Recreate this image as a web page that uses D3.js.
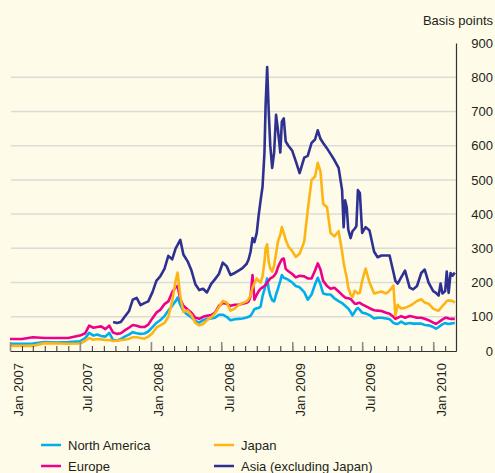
<!DOCTYPE html>
<html>
<head>
<meta charset="utf-8">
<script src="https://cdn.jsdelivr.net/npm/d3@7"></script>
<style>
body { margin: 0; background: #fefbe8; }
svg { display: block; font-family: "Liberation Sans", Arial, sans-serif; }
</style>
</head>
<body>
<svg></svg>
<script>
// sample dates (shared by all four series)
var dates = [
  "2007-01-01","2007-02-01","2007-03-01","2007-04-01","2007-05-01","2007-06-01","2007-07-01","2007-07-15","2007-07-25","2007-08-05",
  "2007-08-15","2007-08-25","2007-09-05","2007-09-15","2007-09-25","2007-10-05","2007-10-15","2007-10-25","2007-11-05","2007-11-15",
  "2007-11-25","2007-12-05","2007-12-15","2007-12-25","2008-01-05","2008-01-15","2008-01-25","2008-02-05","2008-02-15","2008-02-25",
  "2008-03-05","2008-03-10","2008-03-17","2008-03-25","2008-04-05","2008-04-15","2008-04-25","2008-05-05","2008-05-15","2008-05-25",
  "2008-06-05","2008-06-15","2008-06-25","2008-07-05","2008-07-15","2008-07-25","2008-08-05","2008-08-15","2008-08-25","2008-09-05",
  "2008-09-10","2008-09-15","2008-09-20","2008-09-25","2008-10-01","2008-10-06","2008-10-11","2008-10-16","2008-10-21","2008-10-24",
  "2008-10-28","2008-11-01","2008-11-05","2008-11-10","2008-11-15","2008-11-20","2008-11-25","2008-12-01","2008-12-05","2008-12-10",
  "2008-12-15","2008-12-22","2009-01-01","2009-01-10","2009-01-20","2009-02-01","2009-02-10","2009-02-20","2009-03-01","2009-03-08",
  "2009-03-15","2009-03-22","2009-04-01","2009-04-10","2009-04-20","2009-05-01","2009-05-10","2009-05-14","2009-05-18","2009-05-22",
  "2009-05-26","2009-06-01","2009-06-06","2009-06-12","2009-06-16","2009-06-20","2009-06-25","2009-07-01","2009-07-10","2009-07-20",
  "2009-08-01","2009-08-10","2009-08-20","2009-09-01","2009-09-10","2009-09-20","2009-09-25","2009-10-01","2009-10-10","2009-10-20",
  "2009-11-01","2009-11-10","2009-11-20","2009-12-01","2009-12-10","2009-12-20","2010-01-01","2010-01-08","2010-01-15","2010-01-20",
  "2010-01-25","2010-02-01","2010-02-05","2010-02-10","2010-02-15","2010-02-20","2010-02-26"
]

var northAmerica = [
  21,21,22,26,25,26,28,38,53,45,
  48,44,42,53,32,30,35,42,48,55,
  52,50,51,57,70,82,90,102,118,132,
  146,156,135,116,106,98,88,83,90,94,
  95,97,106,106,100,90,93,94,95,98,
  100,103,112,122,125,126,130,160,180,195,
  212,180,162,148,145,165,182,205,222,214,
  212,208,200,190,186,172,150,165,195,214,
  195,168,165,165,154,146,140,136,132,128,
  124,114,104,115,122,126,120,112,110,105,
  95,97,97,95,93,82,80,79,86,79,
  82,80,80,80,76,75,70,65,70,74,
  78,82,80,79,80,81,82
]

var europe = [
  35,35,40,38,38,38,45,52,74,68,
  70,72,64,74,54,50,52,60,68,76,
  74,70,70,77,96,112,120,137,145,172,
  186,190,152,132,121,112,97,94,100,103,
  105,112,132,140,138,132,135,135,138,141,
  145,160,222,150,165,175,182,186,190,193,
  200,206,212,215,220,228,245,260,268,270,
  240,233,225,215,220,218,212,212,235,256,
  238,205,190,182,185,174,164,160,156,155,
  154,152,146,138,138,140,141,136,131,125,
  119,118,117,112,109,100,94,97,102,97,
  102,100,97,97,94,90,83,79,84,88,
  92,97,97,95,94,94,94
]

var japan = [
  15,15,15,23,22,21,22,30,38,33,
  35,34,32,32,29,30,32,33,36,40,
  40,38,36,42,52,68,75,82,100,145,
  205,229,160,115,118,105,82,75,79,90,
  98,110,128,146,142,118,124,134,140,145,
  152,162,185,198,212,205,200,218,260,300,
  312,260,241,232,250,285,320,340,362,345,
  325,305,292,275,284,320,410,500,510,550,
  525,430,420,345,335,350,290,258,235,215,
  185,165,158,176,172,168,170,205,241,200,
  168,171,174,168,176,191,103,135,124,126,
  132,138,146,151,142,138,124,120,118,125,
  132,140,146,148,147,146,141
]

var asia = [
  null,null,null,null,null,null,null,null,null,null,
  null,null,null,null,85,82,85,100,116,150,
  155,134,140,145,172,205,218,240,278,268,
  300,310,325,282,262,235,195,178,182,171,
  196,210,225,258,248,222,228,235,242,255,
  268,290,330,318,345,397,440,480,580,720,
  830,700,600,535,580,690,645,580,670,680,
  612,600,585,555,520,565,570,608,618,645,
  620,608,592,576,558,535,470,362,440,420,
  355,330,350,358,365,470,462,345,362,352,
  290,274,279,279,279,230,205,197,215,235,
  185,180,190,228,238,200,175,170,162,197,
  168,175,232,170,228,220,229
]

var seriesNames = ["North America","Europe","Japan","Asia (excluding Japan)"]
var seriesColors = ["#00aeef","#ec008c","#fdb515","#2e3192"]
var yTicks = [0,100,200,300,400,500,600,700,800,900]
var gridValues = [100,200,300,400,500,600,700,800]
var xLabels = ["Jan 2007","Jul 2007","Jan 2008","Jul 2008","Jan 2009","Jul 2009","Jan 2010"]

var screen = {width:495,height:473}
var plot = {left:10,right:456,top:43,bottom:351}

var parse = d3.timeParse("%Y-%m-%d")
var parsedDates = dates.map(parse)

var svg = d3.select("svg")
    .attr("width",screen.width)
    .attr("height",screen.height)

svg.append("rect")
    .attr("width",screen.width)
    .attr("height",screen.height)
    .attr("fill","#fefbe8")

var xScale = d3.scaleTime()
    .domain([parse("2007-01-01"),parse("2010-03-01")])
    .range([plot.left,plot.right])
var yScale = d3.scaleLinear()
    .domain([0,900])
    .range([plot.bottom,plot.top])

// gridlines
svg.append("g")
    .selectAll("line")
    .data(gridValues)
    .enter()
    .append("line")
    .attr("x1",plot.left+1)
    .attr("x2",plot.right)
    .attr("y1",function(d){ return yScale(d) })
    .attr("y2",function(d){ return yScale(d) })
    .attr("stroke","#dcdbd6")
    .attr("stroke-width",1.5)

// lines
var lineGenerator = d3.line()
    .defined(function(d){ return d.value != null })
    .x(function(d){ return xScale(d.date) })
    .y(function(d){ return yScale(d.value) })

var allSeries = [northAmerica,europe,japan,asia]
allSeries.forEach(function(values,i)
{
    var pts = values.map(function(v,j){ return {date:parsedDates[j],value:v} })
    svg.append("path")
        .datum(pts)
        .attr("fill","none")
        .attr("stroke",seriesColors[i])
        .attr("stroke-width",2.6)
        .attr("stroke-linejoin","round")
        .attr("d",lineGenerator)
})

// x axis: monthly minor ticks, Jan/Jul major ticks
var months = d3.timeMonth.range(parse("2007-01-01"),parse("2010-03-02"))
var majorMonths = months.filter(function(d){ return d.getMonth()==0 || d.getMonth()==6 })

svg.append("g")
    .attr("transform","translate(0,"+plot.bottom+")")
    .call(d3.axisBottom(xScale).tickValues(months).tickSize(-5).tickSizeOuter(0).tickFormat(""))
    .call(function(g){
        g.select(".domain").attr("stroke","#333").attr("stroke-width",1.2)
        g.selectAll(".tick line").attr("stroke","#333")
    })

svg.append("g")
    .attr("transform","translate(0,"+plot.bottom+")")
    .call(d3.axisBottom(xScale).tickValues(majorMonths).tickSize(-9).tickFormat(""))
    .call(function(g){
        g.select(".domain").remove()
        g.selectAll(".tick line").attr("stroke","#8c8c88").attr("stroke-width",1.6)
    })

svg.append("g")
    .selectAll("text")
    .data(majorMonths)
    .enter()
    .append("text")
    .attr("transform",function(d){ return "translate("+(xScale(d)+12.5)+",363) rotate(-90)" })
    .attr("text-anchor","end")
    .attr("font-size",13)
    .attr("fill","#231f20")
    .text(function(d,i){ return xLabels[i] })

// y axis on the right
svg.append("g")
    .attr("transform","translate("+plot.right+",0)")
    .call(d3.axisRight(yScale).tickValues(yTicks).tickSize(0).tickSizeOuter(0))
    .call(function(g){
        g.select(".domain").attr("stroke","#333").attr("stroke-width",1.2)
        g.selectAll(".tick text")
            .attr("x",37)
            .attr("text-anchor","end")
            .attr("font-size",13)
            .attr("font-family","Liberation Sans, Arial, sans-serif")
            .attr("fill","#231f20")
    })

svg.append("text")
    .attr("x",493)
    .attr("y",25)
    .attr("text-anchor","end")
    .attr("font-size",13)
    .attr("fill","#231f20")
    .text("Basis points")

// legend
var legendPos = [[41,445],[41,466],[214,445],[214,466]]
var legend = svg.append("g")
    .selectAll("g")
    .data(seriesNames)
    .enter()
    .append("g")
    .attr("transform",function(d,i){ return "translate("+legendPos[i][0]+","+legendPos[i][1]+")" })

legend.append("line")
    .attr("x1",0)
    .attr("x2",20)
    .attr("stroke",function(d,i){ return seriesColors[i] })
    .attr("stroke-width",2.5)

legend.append("text")
    .attr("x",27)
    .attr("y",5)
    .attr("font-size",13)
    .attr("fill","#231f20")
    .text(function(d){ return d })
</script>
</body>
</html>
